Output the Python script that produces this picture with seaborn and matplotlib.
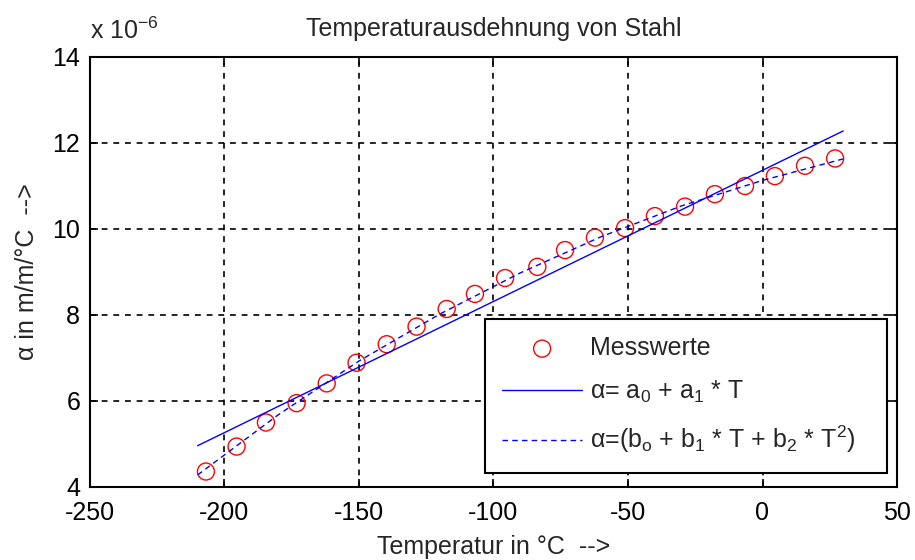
import matplotlib
matplotlib.use("Agg")
import matplotlib.pyplot as plt
import seaborn as sns
import pandas as pd

# Measured values (alpha in units of 1e-6 m/m/°C)
temp_meas = [-206.9, -195.5, -184.6, -173.2, -162.0, -150.9, -139.7, -128.6, -117.4,
             -106.9, -95.7, -83.7, -73.4, -62.3, -51.1, -40.0, -28.8, -17.7, -6.5,
             4.6, 15.8, 27.0]
alpha_meas = [4.36, 4.94, 5.50, 5.95, 6.41, 6.89, 7.32, 7.73, 8.14,
              8.49, 8.86, 9.12, 9.51, 9.80, 10.02, 10.30, 10.52, 10.81, 11.00,
              11.23, 11.47, 11.64]

# Linear fit line
temp_lin = [-210.0, 30.0]
alpha_lin = [4.96, 12.28]

# Quadratic fit curve
temp_quad = [-210, -180, -150, -120, -90, -60, -30, 0, 30]
alpha_quad = [4.28, 5.68, 6.93, 8.02, 8.98, 9.82, 10.54, 11.13, 11.63]

xticks = [-250, -200, -150, -100, -50, 0, 50]
yticks = [4, 6, 8, 10, 12, 14]

title = "Temperaturausdehnung von Stahl"
xlabel = "Temperatur in °C  -->"
ylabel = "α in m/m/°C  -->"
labels = ["Messwerte", "α= a$_0$ + a$_1$ * T", "α=(b$_{o}$ + b$_1$ * T + b$_2$ * T$^2$)"]

sns.set_theme(style="white")
plt.rcParams["font.family"] = ["Liberation Sans", "DejaVu Sans"]
plt.rcParams["mathtext.fontset"] = "custom"
plt.rcParams["mathtext.rm"] = "Liberation Sans"
plt.rcParams["mathtext.it"] = "Liberation Sans"
plt.rcParams["mathtext.default"] = "rm"

fs = 18
fig = plt.figure(figsize=(9.15, 5.6), dpi=100)
fig.patch.set_facecolor("white")
ax = fig.add_axes([90 / 915, 1 - 487 / 560, 807 / 915, 430 / 560])

df_m = pd.DataFrame({"T": temp_meas, "a": alpha_meas})
df_l = pd.DataFrame({"T": temp_lin, "a": alpha_lin})
df_q = pd.DataFrame({"T": temp_quad, "a": alpha_quad})

sns.scatterplot(data=df_m, x="T", y="a", ax=ax, marker="o", s=150,
                facecolors="none", edgecolor="red", linewidth=1.0,
                label=labels[0], zorder=3)
sns.lineplot(data=df_l, x="T", y="a", ax=ax, color="blue", linewidth=1.0,
             label=labels[1], zorder=4)
sns.lineplot(data=df_q, x="T", y="a", ax=ax, color="blue", linewidth=1.0,
             linestyle=(0, (4, 3)), label=labels[2], zorder=4)

ax.set_xlim(-250, 50)
ax.set_ylim(4, 14)
ax.set_xticks(xticks)
ax.set_yticks(yticks)
ax.set_xticklabels([str(t) for t in xticks], fontsize=fs)
ax.set_yticklabels([str(t) for t in yticks], fontsize=fs)
ax.tick_params(axis="x", pad=10)
ax.tick_params(axis="y", pad=7)
ax.tick_params(direction="in", length=6, width=1.2, top=True, right=True,
               bottom=True, left=True, colors="black")
ax.grid(True, color="black", linestyle=(0, (3.5, 3.5)), linewidth=1.2)
for sp in ax.spines.values():
    sp.set_visible(True)
    sp.set_color("black")
    sp.set_linewidth(1.5)

ax.set_title(title, fontsize=fs, pad=15)
ax.set_xlabel(xlabel, fontsize=fs, labelpad=7)
ax.set_ylabel(ylabel, fontsize=fs, labelpad=10)
ax.text(0.0, 1.03, "x 10$^{-6}$", transform=ax.transAxes, fontsize=fs,
        ha="left", va="bottom")

leg = ax.legend(loc="lower left", bbox_to_anchor=(0.489, 0.033, 0.499, 0.35),
                mode="expand", fontsize=fs,
                frameon=True, fancybox=False, edgecolor="black", framealpha=1,
                handlelength=3.2, handletextpad=0.3, labelspacing=0.75,
                borderpad=0.7, borderaxespad=0)
leg.get_frame().set_linewidth(1.5)

fig.savefig("out.png", dpi=100, facecolor="white")
